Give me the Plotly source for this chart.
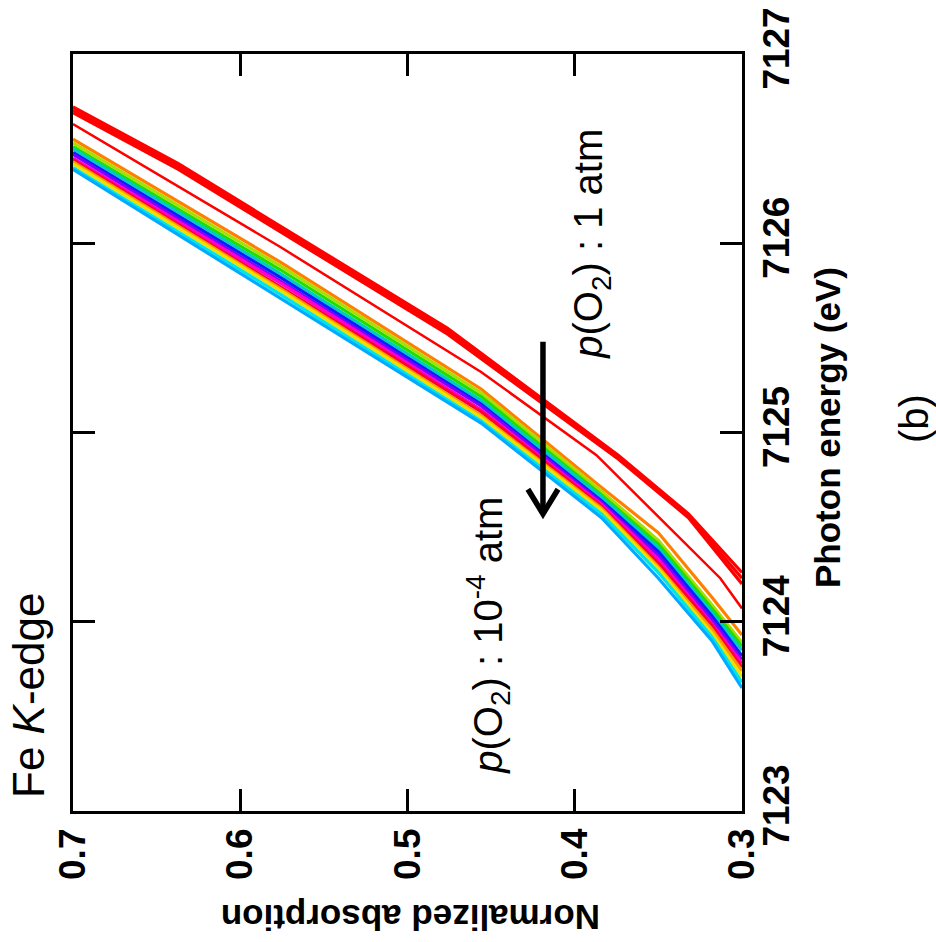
import plotly.graph_objects as go

# ---- data (absorption grid -> photon energy) ----
rainbow_abs = [0.70, 0.576, 0.456, 0.384, 0.350, 0.318, 0.300]
rainbow_energy = [
    [7126.55, 7125.90, 7125.23, 7124.71, 7124.47, 7124.13, 7123.93],
    [7126.53, 7125.88, 7125.21, 7124.69, 7124.43, 7124.09, 7123.89],
    [7126.51, 7125.86, 7125.19, 7124.67, 7124.41, 7124.07, 7123.87],
    [7126.50, 7125.84, 7125.17, 7124.66, 7124.39, 7124.05, 7123.85],
    [7126.48, 7125.82, 7125.15, 7124.64, 7124.37, 7124.03, 7123.82],
    [7126.47, 7125.80, 7125.14, 7124.63, 7124.35, 7124.01, 7123.80],
    [7126.45, 7125.79, 7125.12, 7124.62, 7124.33, 7123.99, 7123.78],
    [7126.44, 7125.77, 7125.11, 7124.61, 7124.31, 7123.98, 7123.76],
    [7126.43, 7125.76, 7125.09, 7124.60, 7124.29, 7123.96, 7123.74],
    [7126.42, 7125.75, 7125.08, 7124.59, 7124.28, 7123.94, 7123.71],
    [7126.40, 7125.73, 7125.06, 7124.57, 7124.26, 7123.92, 7123.68],
    [7126.39, 7125.71, 7125.05, 7124.55, 7124.23, 7123.90, 7123.65],
]
rainbow_colors = ["#FF7F00", "#AADD00", "#22DD00", "#00CCBB", "#0022FF", "#7A00FF",
                  "#FF00CC", "#FF0033", "#FF9900", "#EEE000", "#00E5E5", "#00AAFF"]

red_abs = [0.70, 0.637, 0.476, 0.374, 0.332, 0.300]
red_energy = [
    [7126.72, 7126.42, 7125.55, 7124.88, 7124.57, 7124.26],
    [7126.705, 7126.405, 7125.535, 7124.87, 7124.56, 7124.23],
    [7126.69, 7126.39, 7125.52, 7124.86, 7124.55, 7124.20],
]
thin_red_abs = [0.70, 0.576, 0.456, 0.387, 0.313, 0.300]
thin_red_energy = [7126.63, 7125.98, 7125.32, 7124.88, 7124.23, 7124.07]

x_ticks = [0.7, 0.6, 0.5, 0.4, 0.3]
y_ticks = [7123, 7124, 7125, 7126, 7127]

FONT = "Liberation Sans, Arial, sans-serif"

fig = go.Figure()
for e, c in zip(rainbow_energy, rainbow_colors):
    fig.add_trace(go.Scatter(x=rainbow_abs, y=e, mode="lines",
                             line=dict(color=c, width=3.2), showlegend=False))
fig.add_trace(go.Scatter(x=thin_red_abs, y=thin_red_energy, mode="lines",
                         line=dict(color="#FF0000", width=2.5), showlegend=False))
for e in red_energy:
    fig.add_trace(go.Scatter(x=red_abs, y=e, mode="lines",
                             line=dict(color="#FF0000", width=3.2), showlegend=False))

axis_common = dict(showline=True, linecolor="black", linewidth=2.5, mirror="ticks",
                   ticks="inside", ticklen=22, tickwidth=2.5, tickcolor="black",
                   showgrid=False, zeroline=False, automargin=False,
                   ticklabeloverflow="allow",
                   tickfont=dict(family=FONT, size=37, color="black", weight="bold"))

fig.update_xaxes(range=[0.7, 0.3], tickvals=x_ticks,
                 ticktext=[f"{v:.1f}" for v in x_ticks], tickangle=-90,
                 ticklabelstandoff=0, **axis_common)
fig.update_yaxes(range=[7123, 7127], tickvals=y_ticks, side="right",
                 ticktext=[str(v) for v in y_ticks], tickangle=-90,
                 ticklabelstandoff=0, **axis_common)

# page pixel -> paper coordinates (plot area spans page x 73..742, y 54..811)
def px(xp):
    return (xp - 73) / 669

def py(yp):
    return (811 - yp) / 757

ann_font = dict(family=FONT, color="black")
common_ann = dict(showarrow=False, xanchor="center", yanchor="middle")
fig.add_annotation(text="Photon energy (eV)", xref="paper", yref="paper",
                   x=px(828), y=py(428), textangle=-90,
                   font=dict(size=35, weight="bold", **ann_font), **common_ann)
fig.add_annotation(text="Normalized absorption", xref="paper", yref="paper",
                   x=px(411), y=py(918), textangle=180,
                   font=dict(size=35, weight="bold", **ann_font), **common_ann)
fig.add_annotation(text="Fe <i>K</i>-edge", xref="paper", yref="paper",
                   x=px(28), y=py(696), textangle=-90,
                   font=dict(size=44, **ann_font), **common_ann)
fig.add_annotation(text="<i>p</i>(O<sub>2</sub>) : 1 atm", xref="x", yref="y",
                   x=0.390, y=7126.0, textangle=-90,
                   font=dict(size=40, **ann_font), **common_ann)
fig.add_annotation(text="<i>p</i>(O<sub>2</sub>) : 10<sup>-4</sup> atm", xref="x", yref="y",
                   x=0.452, y=7123.93, textangle=-90,
                   font=dict(size=40, **ann_font), **common_ann)
fig.add_annotation(text="(b)", xref="paper", yref="paper",
                   x=px(914), y=py(419), textangle=-90,
                   font=dict(size=40, **ann_font), **common_ann)

# arrow
fig.add_shape(type="line", xref="x", yref="y", x0=0.419, x1=0.419, y0=7125.48, y1=7124.58,
              line=dict(color="black", width=5.5))
fig.add_shape(type="path", xref="x", yref="y",
              path="M 0.428,7124.70 L 0.419,7124.57 L 0.410,7124.70",
              line=dict(color="black", width=5.5))

fig.update_layout(width=936, height=942, plot_bgcolor="white", paper_bgcolor="white",
                  margin=dict(l=73, r=194, t=54, b=131), showlegend=False)

# remove the default 8px page margin so the figure fills the window exactly
fig.write_html("out.html", config={"displayModeBar": False},
               post_script="document.body.style.margin='0';document.body.style.overflow='hidden';")
